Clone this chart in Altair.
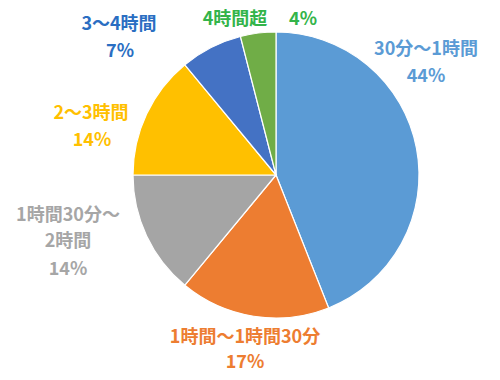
import altair as alt
import pandas as pd

categories = ["30分〜1時間", "1時間〜1時間30分", "1時間30分〜2時間", "2〜3時間", "3〜4時間", "4時間超"]
values = [44, 17, 14, 14, 7, 4]
slice_colors = ["#5B9BD5", "#ED7D31", "#A5A5A5", "#FFC000", "#4472C4", "#70AD47"]
label_colors = ["#5B9BD5", "#ED7D31", "#A6A6A6", "#FFC000", "#2A6EC2", "#33B44A"]
# label pieces per category (text only)
label_lines = [
    ["30分〜1時間", "44%"],
    ["1時間〜1時間30分", "17%"],
    ["1時間30分〜", "2時間", "14%"],
    ["2〜3時間", "14%"],
    ["3〜4時間", "7%"],
    ["4時間超", "4%"],
]

# layout (chart pixel coordinates of each label piece centre)
label_pos = [
    [(418, 32), (418, 59)],
    [(237, 320), (237, 345)],
    [(60, 198), (60, 224), (60, 252)],
    [(83, 96), (84, 123)],
    [(111, 7), (112, 34)],
    [(227, 2), (295, 2)],
]
CX, CY, R = 268, 157, 143
FONT = "Noto Sans CJK JP"

df = pd.DataFrame({"cat": categories, "value": values, "idx": list(range(len(values)))})

shadow = alt.Chart(pd.DataFrame({"v": [1]})).mark_arc(
    outerRadius=R + 2, color="#d9d9d9", opacity=0.6
).encode(theta=alt.Theta("v:Q"), x=alt.value(CX + 1), y=alt.value(CY + 2))

pie = alt.Chart(df).mark_arc(outerRadius=R, stroke="white", strokeWidth=1.2).encode(
    theta=alt.Theta("value:Q", stack=True),
    color=alt.Color("cat:N", scale=alt.Scale(domain=categories, range=slice_colors), legend=None),
    order=alt.Order("idx:Q"),
    x=alt.value(CX),
    y=alt.value(CY),
)

layers = [shadow, pie]
for lines, poss, col in zip(label_lines, label_pos, label_colors):
    for txt, (px, py) in zip(lines, poss):
        layers.append(
            alt.Chart(pd.DataFrame({"t": [txt]})).mark_text(
                font=FONT, fontSize=18, fontWeight="bold", color=col,
                align="center", baseline="middle",
            ).encode(text="t:N", x=alt.value(px), y=alt.value(py))
        )

chart = alt.layer(*layers).properties(
    width=484, height=350, background="white",
    padding={"left": 0, "top": 10, "right": 0, "bottom": 4},
    autosize=alt.AutoSizeParams(type="none"),
).configure_view(stroke=None)

chart.save("out.html", embed_options={"renderer": "svg", "actions": False})
